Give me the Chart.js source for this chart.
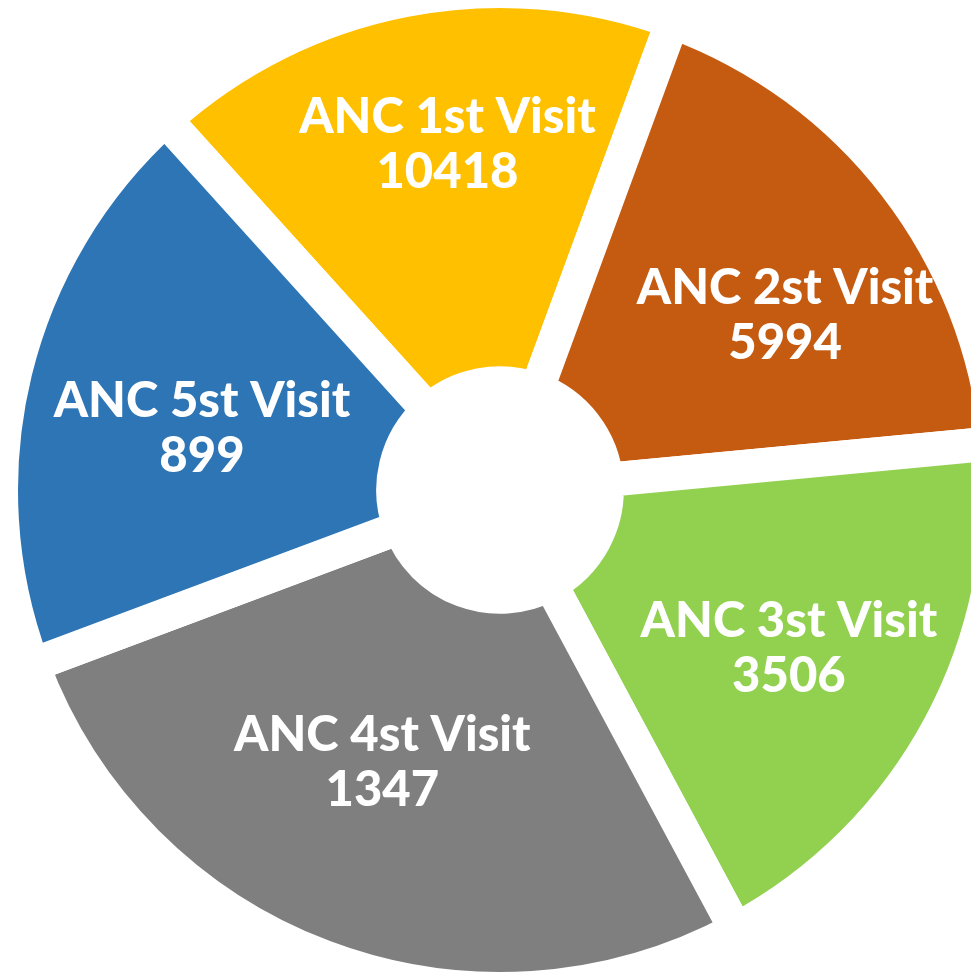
<!DOCTYPE html>
<html>
<head>
<meta charset="utf-8">
<title>ANC Visits</title>
<script src="https://cdn.jsdelivr.net/npm/chart.js@4.4.0/dist/chart.umd.min.js"></script>
<style>
  html, body { margin: 0; padding: 0; background: #fff; overflow: hidden; }
  #wrap { position: absolute; left: 0; top: 0; }
</style>
</head>
<body>
<div id="wrap"><canvas id="myChart" width="1000" height="980"></canvas></div>
<script>
'use strict'

// Data
const visitLabels = ['ANC 1st Visit', 'ANC 2st Visit', 'ANC 3st Visit', 'ANC 4st Visit', 'ANC 5st Visit'];
const visitCounts = [10418, 5994, 3506, 1347, 899];
// slice sizes as drawn in the picture (degrees) - the original is not proportional to the counts
const sliceDegrees = [62.3, 64.4, 67.2, 97.7, 68.4];
const sliceColors = ['#FFC000', '#C55A11', '#92D050', '#7F7F7F', '#2E75B6'];

// white gap between slices comes from a wide white border
const gapWidth = 34;

// draws the two-line white label inside every slice
const sliceLabels = {
  id: 'sliceLabels',
  afterDatasetsDraw(chart, args, opts) {
    const ctx = chart.ctx;
    const arcs = chart.getDatasetMeta(0).data;
    ctx.save();
    ctx.fillStyle = '#ffffff';
    ctx.font = opts.font;
    ctx.textAlign = 'center';
    ctx.textBaseline = 'middle';
    arcs.forEach((arc, i) => {
      // label sits near the middle of the slice, nudged like the original
      const mid = (arc.startAngle + arc.endAngle) / 2 + opts.angleShift[i] * Math.PI / 180;
      const r = arc.outerRadius * opts.radiusFactor[i];
      const x = arc.x + Math.cos(mid) * r;
      const y = arc.y + Math.sin(mid) * r;
      ctx.fillText(visitLabels[i], x, y - 27);
      ctx.fillText(String(visitCounts[i]), x, y + 28);
    });
    ctx.restore();
  }
};

const data = {
  labels: visitLabels,
  datasets: [{
    data: sliceDegrees,
    backgroundColor: sliceColors,
    borderColor: '#ffffff',
    borderWidth: gapWidth,
    hoverOffset: 0
  }]
};

const config = {
  type: 'doughnut',
  data: data,
  options: {
    responsive: false,
    animation: false,
    events: [],
    rotation: -42.1,
    radius: 499,
    cutout: '21.4%',
    layout: { padding: 0 },
    plugins: {
      legend: { display: false },
      tooltip: { enabled: false },
      sliceLabels: {
        font: '900 49px Lato',
        angleShift: [2.3, 6.1, 0.5, 2.7, -2.0],
        radiusFactor: [0.70, 0.67, 0.66, 0.595, 0.61]
      }
    }
  },
  plugins: [sliceLabels]
};

let canvasChart = document.getElementById('myChart');
const myChart = new Chart(canvasChart, config);
</script>
</body>
</html>
